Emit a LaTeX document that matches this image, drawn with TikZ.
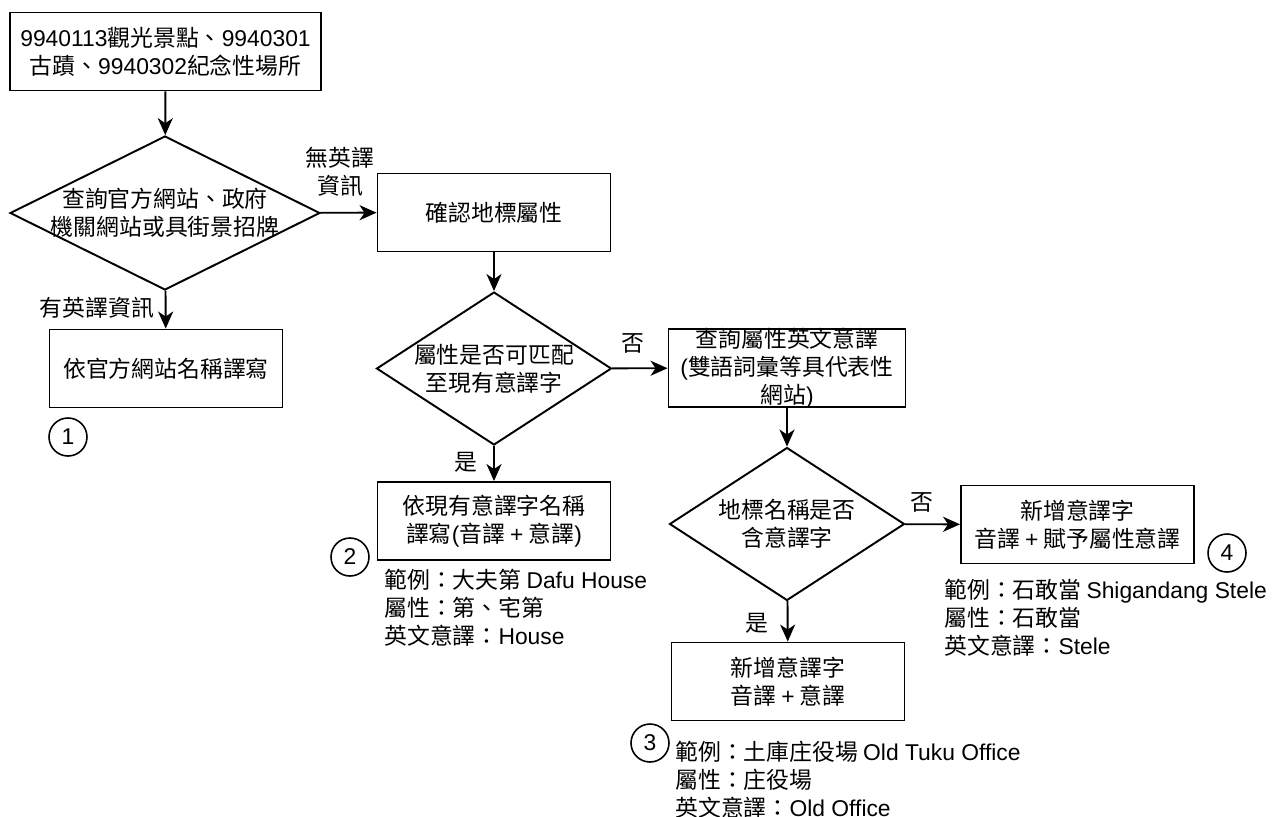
\documentclass[tikz,border=0pt]{standalone}
\usepackage{fontspec}
\setmainfont{Noto Sans CJK TC}
\newfontfamily\lat{Liberation Sans}
\newcommand{\eng}[1]{{\lat #1}}
\usetikzlibrary{shapes.geometric,arrows.meta}

\tikzset{
  stepbox/.style={draw,rectangle,line width=1.1pt,minimum width=4.66cm,minimum height=1.56cm,inner sep=0pt,align=center},
  ask/.style={draw,diamond,line width=1.1pt,minimum width=4.7cm,minimum height=3.06cm,inner sep=0pt},
  num/.style={draw,circle,line width=0.9pt,minimum size=0.76cm,inner sep=0pt},
  lbl/.style={inner sep=0pt,align=center},
  note/.style={anchor=west,align=left,inner sep=0pt},
  arr/.style={line width=1.1pt,-{Stealth[length=3.4mm,width=3mm,inset=1mm]}}
}

\begin{document}
\begin{tikzpicture}[x=0.02cm,y=-0.02cm,font=\fontsize{13}{15.9}\selectfont]
      \useasboundingbox (0,0) rectangle (1274,816);
      \node[stepbox,minimum width=6.22cm] (src) at (165.5,51.5)
        {\eng{9940113}觀光景點、\eng{9940301}\\古蹟、\eng{9940302}紀念性場所};
      \node[ask,minimum width=6.2cm,minimum height=3.08cm,
        label={[lbl]center:{查詢官方網站、政府\\機關網站或具街景招牌}}] (web) at (165,213) {};
      \node[stepbox] (official) at (166,368.5) {依官方網站名稱譯寫};
      \node[stepbox] (attr) at (494,212.5) {確認地標屬性};
      \node[ask,label={[lbl]center:{屬性是否可匹配\\至現有意譯字}}] (match) at (494,368.5) {};
      \node[stepbox] (exist) at (494,521) {依現有意譯字名稱\\譯寫\eng{(}音譯 \eng{+} 意譯\eng{)}};
      \node[stepbox,minimum width=4.74cm,
        label={[lbl]center:{查詢屬性英文意譯\\\eng{(}雙語詞彙等具代表性\\網站\eng{)}}}] (query) at (787,368) {};
      \node[ask,label={[lbl]center:{地標名稱是否\\含意譯字}}] (contain) at (787,524) {};
      \node[stepbox] (addattr) at (1077.5,524.5) {新增意譯字\\音譯 \eng{+} 賦予屬性意譯};
      \node[stepbox] (addword) at (788,681.5) {新增意譯字\\音譯 \eng{+} 意譯};

      \node[lbl] (noen) at (340,172) {無英譯\\資訊};
      \node[lbl] (hasen) at (97,308) {有英譯資訊};
      \node[lbl] (yes1) at (466,462) {是};
      \node[lbl] (no1) at (633,343) {否};
      \node[lbl] (no2) at (922,502) {否};
      \node[lbl] (yes2) at (757,623) {是};

      \node[num] (n1) at (68,437) {\eng{1}};
      \node[num] (n2) at (350,557) {\eng{2}};
      \node[num] (n3) at (650,743) {\eng{3}};
      \node[num] (n4) at (1227,553) {\eng{4}};

      \node[note] (ex2) at (384,608) {範例：大夫第 \eng{Dafu House}\\屬性：第、宅第\\英文意譯：\eng{House}};
      \node[note] (ex4) at (944,618) {範例：石敢當 \eng{Shigandang Stele}\\屬性：石敢當\\英文意譯：\eng{Stele}};
      \node[note] (ex3) at (675,780) {範例：土庫庄役場 \eng{Old Tuku Office}\\屬性：庄役場\\英文意譯：\eng{Old Office}};

      \begin{scope}[arr]
        \draw (src) to (web);
        \draw (web) to (official);
        \draw (web) to (attr);
        \draw (attr) to (match);
        \draw (match) to (exist);
        \draw (match) to (query);
        \draw (query) to (contain);
        \draw (contain) to (addattr);
        \draw (contain) to (addword);
      \end{scope}
    \end{tikzpicture}
\end{document}
